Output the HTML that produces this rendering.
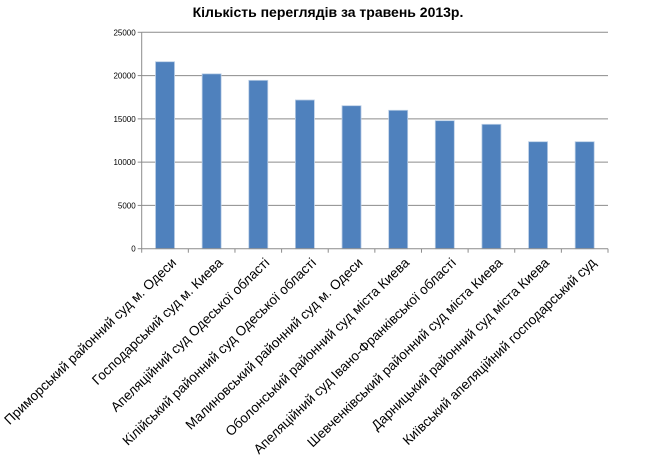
<!DOCTYPE html>
<html><head><meta charset="utf-8"><style>body{margin:0;background:#fff}svg{display:block}</style></head>
<body>
<svg id="chart" width="650" height="468" xmlns="http://www.w3.org/2000/svg" font-family="'Liberation Sans', sans-serif">
<text x="328" y="17" text-anchor="middle" font-size="14" font-weight="bold" fill="#000">Кількість переглядів за травень 2013р.</text>
<g id="grid"></g><g id="bars"></g><g id="axes"></g><g id="labels"></g>
</svg>
<script>
const categories = ["Приморський районний  суд м. Одеси","Господарський суд м. Киева","Апеляційний суд Одеської області","Кілійський районний суд Одеської області","Малиновський районний суд м. Одеси","Оболонський районний суд міста Киева","Апеляційний суд Івано-Франківської області","Шевченківський районний суд міста Киева","Дарницький районний суд міста Киева","Київський апеляційний господарський суд"];
const values = [21600,20200,19450,17180,16520,15990,14790,14370,12360,12360];
const yTicks = [0,5000,10000,15000,20000,25000];
const NS="http://www.w3.org/2000/svg";
const L=141.7,R=608,T=32.3,B=248.7,yMax=25000;
const y=v=>B-(v/yMax)*(B-T);
const band=(R-L)/categories.length;
const x=i=>L+band*i;
function mk(tag,attrs,parent){const e=document.createElementNS(NS,tag);for(const k in attrs)e.setAttribute(k,attrs[k]);parent.appendChild(e);return e;}
const grid=document.getElementById('grid'),bars=document.getElementById('bars'),axes=document.getElementById('axes'),labels=document.getElementById('labels');
yTicks.forEach(t=>{
  if(t>0){const g=mk('line',{x1:L,x2:R,y1:y(t),y2:y(t),stroke:'#8c8c8c','stroke-width':1},grid);
  
  }
  const tk=mk('line',{x1:L-4,x2:L,y1:y(t),y2:y(t),stroke:'#8c8c8c'},axes);
  
  
  const tl=mk('text',{x:L-6,y:y(t)+3,'text-anchor':'end','font-size':8,fill:'#000'},axes);
  tl.textContent=t;
  
  
});
const ya=mk('line',{x1:L,x2:L,y1:T,y2:B,stroke:'#8c8c8c'},axes);


const xa=mk('line',{x1:L,x2:R,y1:B,y2:B,stroke:'#8c8c8c'},axes);


for(let i=0;i<=categories.length;i++){
  const t=mk('line',{x1:x(i),x2:x(i),y1:B,y2:B+4,stroke:'#8c8c8c'},axes);
  
  
}
const bw=19;
values.forEach((v,i)=>{
  const cx=x(i)+band/2;
  const r=mk('rect',{x:cx-bw/2,y:y(v),width:bw,height:B-y(v),fill:'#4f81bd',stroke:'#b9cde5','stroke-width':0.8},bars);
  
  
});
categories.forEach((c,i)=>{
  const cx=x(i)+band/2+12, cy=B+15;
  const t=mk('text',{x:cx,y:cy,'text-anchor':'end','font-size':13.5,fill:'#000',transform:`rotate(-44 ${cx} ${cy})`},labels);
  t.textContent=c;
  
  
});
</script>
</body></html>
